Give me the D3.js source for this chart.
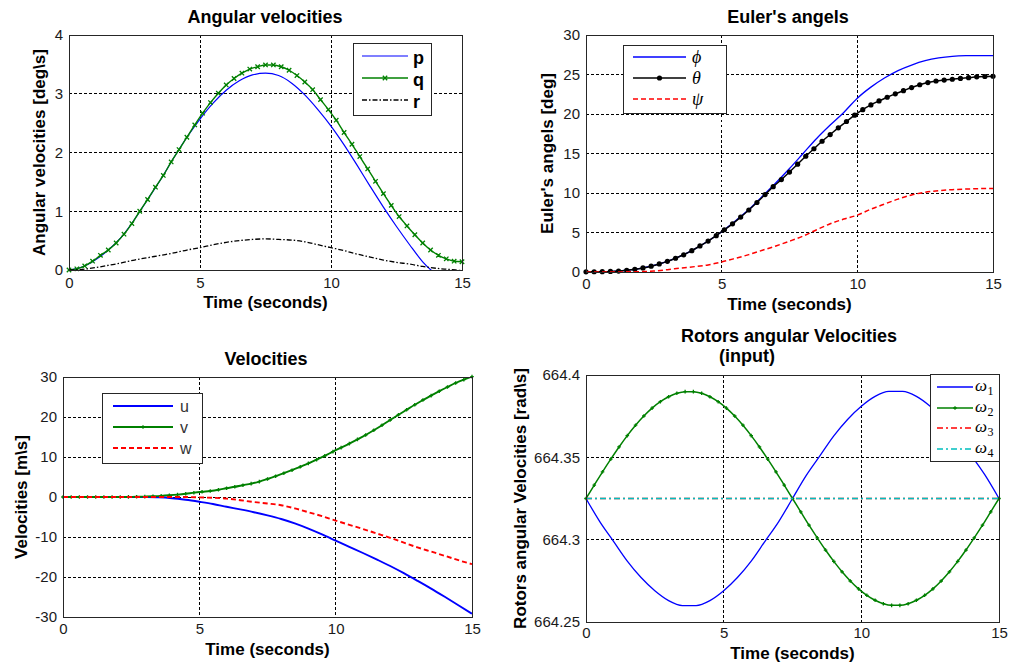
<!DOCTYPE html>
<html>
<head>
<meta charset="utf-8">
<title>Quadrotor simulation results</title>
<script src="https://cdn.jsdelivr.net/npm/d3@7/dist/d3.min.js"></script>
<style>
  body { margin: 0; background: #fff; }
  svg { display: block; }
</style>
</head>
<body>
<svg id="chart" width="1009" height="668"></svg>
<script>
// ---------- sample grids (seconds) ----------
const fineTime = d3.range(51).map(i => Math.round(i * 3) / 10);   // 0, 0.3, ... 15
const coarseTime = d3.range(31).map(i => i / 2);                   // 0, 0.5, ... 15
const endTime = [0, 15];

// ---------- axis ticks ----------
const timeTicks = [0, 5, 10, 15];
const timeTickLabels = ["0", "5", "10", "15"];
const angVelTicks = [0, 1, 2, 3, 4];
const angVelTickLabels = ["0", "1", "2", "3", "4"];
const eulerTicks = [0, 5, 10, 15, 20, 25, 30];
const eulerTickLabels = ["0", "5", "10", "15", "20", "25", "30"];
const velTicks = [-30, -20, -10, 0, 10, 20, 30];
const velTickLabels = ["-30", "-20", "-10", "0", "10", "20", "30"];
const rotorTicks = [664.25, 664.3, 664.35, 664.4];
const rotorTickLabels = ["664.25", "664.3", "664.35", "664.4"];

// ---------- angular velocities [deg/s] ----------
const pRate = [0, 0.05, 0.17, 0.34, 0.56, 0.86, 1.2, 1.54, 1.91, 2.26, 2.57, 2.84, 3.06, 3.22, 3.32, 3.35,
  3.31, 3.18, 2.98, 2.73, 2.45, 2.13, 1.78, 1.42, 1.07, 0.74, 0.43, 0.14, -0.07, -0.22, -0.32];
const qRate = [0, 0.02, 0.07, 0.15, 0.25, 0.34, 0.46, 0.61, 0.79, 1.0, 1.2, 1.41, 1.61, 1.84, 2.05, 2.26,
  2.47, 2.67, 2.85, 3.01, 3.15, 3.26, 3.35, 3.42, 3.46, 3.49, 3.49, 3.46, 3.40, 3.31, 3.20, 3.07, 2.90,
  2.73, 2.55, 2.34, 2.14, 1.93, 1.72, 1.51, 1.30, 1.10, 0.91, 0.75, 0.60, 0.46, 0.34, 0.25, 0.19, 0.15, 0.14];
const rRate = [0, 0.01, 0.04, 0.08, 0.12, 0.17, 0.21, 0.25, 0.29, 0.34, 0.38, 0.43, 0.47, 0.50, 0.52, 0.53,
  0.52, 0.51, 0.48, 0.43, 0.38, 0.33, 0.27, 0.22, 0.17, 0.13, 0.10, 0.06, 0.03, 0.01, -0.01];

// ---------- Euler angles [deg] ----------
const phiAngle = [0.02, 0.03, 0.08, 0.22, 0.46, 0.83, 1.35, 2.03, 2.9, 3.92, 5.1, 6.45, 7.9, 9.6, 11.3, 13.1,
  15.0, 16.9, 18.6, 20.2, 22.0, 23.4, 24.55, 25.5, 26.2, 26.75, 27.1, 27.3, 27.38, 27.4, 27.4];
const thetaAngle = [0.02, 0.03, 0.04, 0.07, 0.12, 0.22, 0.35, 0.52, 0.74, 1.02, 1.35, 1.74, 2.18, 2.7, 3.3,
  3.92, 4.6, 5.35, 6.1, 6.95, 7.85, 8.8, 9.8, 10.8, 11.7, 12.65, 13.65, 14.65, 15.6, 16.55, 17.4, 18.25,
  19.05, 19.85, 20.55, 21.15, 21.65, 22.12, 22.55, 22.95, 23.35, 23.7, 23.98, 24.18, 24.3, 24.4, 24.5,
  24.6, 24.7, 24.75, 24.78];
const psiAngle = [0, 0, 0, 0.02, 0.05, 0.12, 0.3, 0.5, 0.68, 0.9, 1.27, 1.72, 2.2, 2.75, 3.3, 3.9, 4.55,
  5.35, 6.1, 6.7, 7.2, 7.95, 8.6, 9.22, 9.75, 10.1, 10.3, 10.42, 10.5, 10.55, 10.58];

// ---------- body velocities [m/s] ----------
const uVel = [0, 0, 0, 0, 0, 0, -0.02, -0.08, -0.3, -0.7, -1.2, -1.75, -2.45, -3.1, -3.8, -4.6, -5.5,
  -6.6, -7.9, -9.35, -10.9, -12.45, -14.0, -15.6, -17.25, -19.05, -20.95, -22.9, -24.95, -27.05, -29.2];
const vVel = [0, 0, 0, 0, 0, 0, 0, 0.01, 0.03, 0.06, 0.1, 0.17, 0.27, 0.42, 0.6, 0.82, 1.08, 1.3, 1.5,
  1.8, 2.2, 2.55, 2.95, 3.35, 3.85, 4.5, 5.2, 5.95, 6.7, 7.55, 8.4, 9.35, 10.3, 11.35, 12.35, 13.35,
  14.4, 15.5, 16.7, 17.95, 19.25, 20.55, 21.8, 23.05, 24.25, 25.35, 26.45, 27.5, 28.5, 29.35, 30.1];
const wVel = [0, 0, 0, 0, 0, 0, 0, 0, 0, 0, -0.1, -0.2, -0.4, -0.8, -1.26, -1.62, -2.05, -2.85, -3.8, -4.8,
  -5.9, -6.95, -8.0, -9.1, -10.2, -11.4, -12.6, -13.65, -14.7, -15.8, -16.8];

// ---------- rotor speeds [rad/s] ----------
const omega1 = [664.325, 664.311, 664.299, 664.287, 664.277, 664.269, 664.263, 664.260, 664.260, 664.263,
  664.269, 664.277, 664.287, 664.299, 664.311, 664.325, 664.339, 664.351, 664.363, 664.373, 664.381,
  664.387, 664.390, 664.390, 664.387, 664.381, 664.373, 664.363, 664.351, 664.339, 664.325];
const omega2 = [664.3250, 664.3331, 664.3412, 664.3489, 664.3563, 664.3632, 664.3695, 664.3751, 664.3799,
  664.3838, 664.3868, 664.3889, 664.3899, 664.3899, 664.3889, 664.3868, 664.3838, 664.3799, 664.3751,
  664.3695, 664.3632, 664.3563, 664.3489, 664.3412, 664.3331, 664.3250, 664.3169, 664.3088, 664.3011,
  664.2937, 664.2868, 664.2805, 664.2749, 664.2701, 664.2662, 664.2632, 664.2611, 664.2601, 664.2601,
  664.2611, 664.2632, 664.2662, 664.2701, 664.2749, 664.2805, 664.2868, 664.2937, 664.3011, 664.3088,
  664.3169, 664.3250];
const omega3 = [664.325, 664.325];
const omega4 = [664.325, 664.325];

// ---------- drawing ----------
const SANS = "'Liberation Sans', Arial, Helvetica, sans-serif";
const SERIF = "'Liberation Serif', 'Times New Roman', serif";
const BLUE = "#0000ff", GREEN = "#008000", RED = "#ff0000", BLACK = "#000000", CYAN = "#00bfbf";

const svg = d3.select("#chart");
const defs = svg.append("defs");

function markerShape(sel, type, size, color) {
  if (type === "dot") {
    sel.append("circle").attr("r", size).attr("fill", color);
  } else {
    const s = size;
    const d = type === "x"
      ? `M${-s},${-s}L${s},${s}M${-s},${s}L${s},${-s}`
      : `M${-s},0L${s},0M0,${-s}L0,${s}`;
    sel.append("path").attr("d", d).attr("stroke", color).attr("stroke-width", 1.3).attr("fill", "none");
  }
}

function drawPanel(cfg, idx) {
  const g = svg.append("g");
  const x = d3.scaleLinear().domain([0, 15]).range([cfg.left, cfg.right]);
  const y = d3.scaleLinear().domain(cfg.yDomain).range([cfg.bottom, cfg.top]);
  const w = cfg.right - cfg.left, h = cfg.bottom - cfg.top;

  // dotted grid at inner ticks
  const grid = g.append("g").attr("stroke", "#000").attr("stroke-width", 1)
    .attr("stroke-dasharray", "2.5,2.5").attr("shape-rendering", "crispEdges");
  grid.selectAll(null).data(timeTicks.slice(1, -1)).join("line")
    .attr("x1", d => x(d)).attr("x2", d => x(d)).attr("y1", cfg.top).attr("y2", cfg.bottom);
  grid.selectAll(null).data(cfg.yTicks.slice(1, -1)).join("line")
    .attr("x1", cfg.left).attr("x2", cfg.right).attr("y1", d => y(d)).attr("y2", d => y(d));

  // plot-area clip for the curves
  const clipId = "clip" + idx;
  defs.append("clipPath").attr("id", clipId).append("rect")
    .attr("x", cfg.left).attr("y", cfg.top).attr("width", w).attr("height", h);

  const line = d3.line().x(d => x(d[0])).y(d => y(d[1])).curve(d3.curveMonotoneX);
  cfg.series.forEach(s => {
    const pts = s.time.map((t, i) => [t, s.values[i]]);
    g.append("path").datum(pts)
      .attr("clip-path", `url(#${clipId})`)
      .attr("d", line).attr("fill", "none")
      .attr("stroke", s.color).attr("stroke-width", s.width)
      .attr("stroke-dasharray", s.dash || null);
    if (s.marker) {
      g.append("g").selectAll("g")
        .data(pts.filter(d => d[1] >= cfg.yDomain[0] && d[1] <= cfg.yDomain[1] + 0.02 * (cfg.yDomain[1] - cfg.yDomain[0])))
        .join("g").attr("transform", d => `translate(${x(d[0])},${y(d[1])})`)
        .each(function () { markerShape(d3.select(this), s.marker, s.markerSize, s.color); });
    }
  });

  // axes box
  g.append("rect").attr("x", cfg.left).attr("y", cfg.top).attr("width", w).attr("height", h)
    .attr("fill", "none").attr("stroke", "#262626").attr("stroke-width", 1).attr("shape-rendering", "crispEdges");

  // tick labels
  const xAxis = d3.axisBottom(x).tickValues(timeTicks).tickFormat((d, i) => timeTickLabels[i])
    .tickSize(0).tickPadding(cfg.xPad);
  const yAxis = d3.axisLeft(y).tickValues(cfg.yTicks).tickFormat((d, i) => cfg.yTickLabels[i])
    .tickSize(0).tickPadding(6);
  [g.append("g").attr("transform", `translate(0,${cfg.bottom})`).call(xAxis),
   g.append("g").attr("transform", `translate(${cfg.left},0)`).call(yAxis)].forEach(a => {
    a.select(".domain").remove();
    a.selectAll("text").attr("font-family", SANS).attr("font-size", 15).attr("fill", "#1a1a1a");
  });

  // title lines
  cfg.title.forEach(t => {
    g.append("text").attr("x", t.x).attr("y", t.y).attr("text-anchor", "middle")
      .attr("font-family", SANS).attr("font-size", 18).attr("font-weight", "bold").attr("fill", "#000")
      .text(t.text);
  });
  // axis labels
  g.append("text").attr("x", (cfg.left + cfg.right) / 2).attr("y", cfg.xLabelY).attr("text-anchor", "middle")
    .attr("font-family", SANS).attr("font-size", 17).attr("font-weight", "bold").attr("fill", "#000")
    .text("Time (seconds)");
  g.append("text").attr("transform", `translate(${cfg.yLabelX},${(cfg.top + cfg.bottom) / 2}) rotate(-90)`)
    .attr("text-anchor", "middle")
    .attr("font-family", SANS).attr("font-size", 17).attr("font-weight", "bold").attr("fill", "#000")
    .text(cfg.yLabel);

  // legend
  const L = cfg.legend;
  const lg = g.append("g");
  lg.append("rect").attr("x", L.x).attr("y", L.y).attr("width", L.w).attr("height", L.h)
    .attr("fill", "#fff").attr("stroke", "#262626").attr("stroke-width", 1).attr("shape-rendering", "crispEdges");
  cfg.series.forEach((s, i) => {
    const ry = L.rows[i];
    lg.append("line").attr("x1", L.x0).attr("x2", L.x1).attr("y1", ry).attr("y2", ry)
      .attr("stroke", s.color).attr("stroke-width", s.width).attr("stroke-dasharray", s.dash || null);
    if (s.marker) {
      const m = lg.append("g").attr("transform", `translate(${(L.x0 + L.x1) / 2},${ry})`);
      markerShape(m, s.marker, s.markerSize, s.color);
    }
    const t = lg.append("text").attr("x", L.tx).attr("y", ry + L.dy)
      .attr("font-family", L.font).attr("font-size", L.size)
      .attr("font-weight", L.weight).attr("font-style", L.style).attr("fill", L.color)
      .text(s.name);
    if (s.sub) {
      // subscript index placed right after the symbol
      const bw = t.node().getComputedTextLength();
      lg.append("text").attr("x", L.tx + bw + 0.5).attr("y", ry + L.dy + 3.5)
        .attr("font-family", L.font).attr("font-size", 12).attr("fill", L.color)
        .text(s.sub);
    }
  });
}

const panels = [
  {
    left: 69, right: 462, top: 35, bottom: 270, yDomain: [0, 4],
    yTicks: angVelTicks, yTickLabels: angVelTickLabels, xPad: 7,
    title: [{ text: "Angular velocities", x: 265, y: 23 }],
    xLabelY: 308, yLabelX: 45, yLabel: "Angular velocities [deg\\s]",
    series: [
      { name: "p", time: coarseTime, values: pRate, color: BLUE, width: 1.2 },
      { name: "q", time: fineTime, values: qRate, color: GREEN, width: 1.4, marker: "x", markerSize: 2.2 },
      { name: "r", time: coarseTime, values: rRate, color: BLACK, width: 1.3, dash: "5,2,1.5,2" }
    ],
    legend: { x: 353, y: 43, w: 78, h: 72, x0: 362, x1: 408, tx: 413, rows: [56, 78, 100], dy: 8,
      font: SANS, size: 18, weight: "bold", style: "normal", color: "#000" }
  },
  {
    left: 586, right: 993, top: 35, bottom: 272, yDomain: [0, 30],
    yTicks: eulerTicks, yTickLabels: eulerTickLabels, xPad: 6,
    title: [{ text: "Euler's angels", x: 788, y: 23 }],
    xLabelY: 310, yLabelX: 553, yLabel: "Euler's angels [deg]",
    series: [
      { name: "\u03D5", time: coarseTime, values: phiAngle, color: BLUE, width: 1.3 },
      { name: "\u03B8", time: fineTime, values: thetaAngle, color: BLACK, width: 1.5, marker: "dot", markerSize: 2.6 },
      { name: "\u03C8", time: coarseTime, values: psiAngle, color: RED, width: 1.5, dash: "5,3" }
    ],
    legend: { x: 623, y: 45, w: 103, h: 68, x0: 633, x1: 686, tx: 692, rows: [57, 78, 99], dy: 6,
      font: SERIF, size: 18, weight: "normal", style: "italic", color: "#000" }
  },
  {
    left: 63, right: 472, top: 377, bottom: 617, yDomain: [-30, 30],
    yTicks: velTicks, yTickLabels: velTickLabels, xPad: 6,
    title: [{ text: "Velocities", x: 266, y: 365 }],
    xLabelY: 655, yLabelX: 27, yLabel: "Velocities [m\\s]",
    series: [
      { name: "u", time: coarseTime, values: uVel, color: BLUE, width: 1.9 },
      { name: "v", time: fineTime, values: vVel, color: GREEN, width: 1.9, marker: "+", markerSize: 1.8 },
      { name: "w", time: coarseTime, values: wVel, color: RED, width: 1.9, dash: "5,3" }
    ],
    legend: { x: 102, y: 393, w: 100, h: 70, x0: 113, x1: 173, tx: 180, rows: [406, 427, 448], dy: 6,
      font: SANS, size: 16, weight: "normal", style: "normal", color: "#333" }
  },
  {
    left: 586, right: 999, top: 375, bottom: 622, yDomain: [664.25, 664.4],
    yTicks: rotorTicks, yTickLabels: rotorTickLabels, xPad: 5,
    title: [{ text: "Rotors angular Velocities", x: 789, y: 342 },
            { text: "(input)", x: 747, y: 362 }],
    xLabelY: 659, yLabelX: 526, yLabel: "Rotors angular Velocities [rad\\s]",
    series: [
      { name: "\u03C9", sub: "1", time: coarseTime, values: omega1, color: BLUE, width: 1.3 },
      { name: "\u03C9", sub: "2", time: fineTime, values: omega2, color: GREEN, width: 1.5, marker: "+", markerSize: 1.8 },
      { name: "\u03C9", sub: "3", time: endTime, values: omega3, color: RED, width: 1.5, dash: "6,3,2,3" },
      { name: "\u03C9", sub: "4", time: endTime, values: omega4, color: CYAN, width: 1.5, dash: "6,3,2,3" }
    ],
    legend: { x: 930, y: 374, w: 69, h: 87, x0: 937, x1: 973, tx: 975, rows: [387, 408, 428, 449], dy: 4,
      font: SERIF, size: 17, weight: "normal", style: "italic", color: "#000" }
  }
];

panels.forEach(drawPanel);
</script>
</body>
</html>
